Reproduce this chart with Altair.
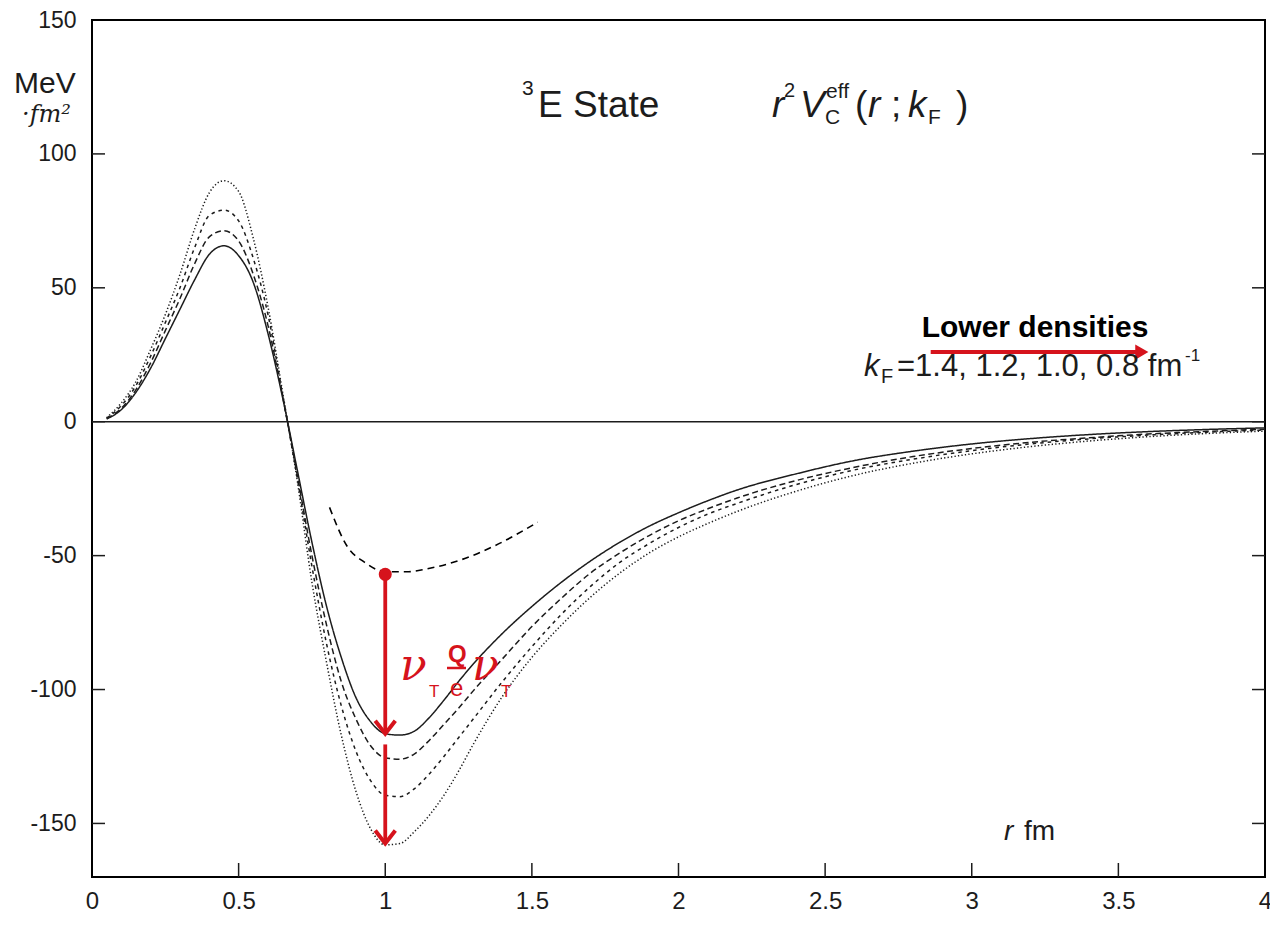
import altair as alt
import pandas as pd

# ---------------- data ----------------
r_vals = [0.05, 0.10, 0.15, 0.20, 0.25, 0.30, 0.35, 0.40, 0.45, 0.50, 0.55, 0.60, 0.65,
          0.70, 0.75, 0.80, 0.85, 0.90, 0.95, 1.00, 1.05, 1.10, 1.15, 1.20, 1.25, 1.30,
          1.4, 1.5, 1.6, 1.7, 1.8, 1.9, 2.0, 2.1, 2.2,
          2.4, 2.6, 2.8, 3.0, 3.2, 3.4, 3.6, 3.8, 4.0]

v_kf14 = [1.0, 4.5, 11, 20, 31, 42, 53, 62.5, 65.7, 62, 52, 33, 9,
          -18, -45, -69, -88, -103, -112, -116.5, -117, -115.5, -110.5, -104, -97, -90.5,
          -79, -69, -60, -52, -45, -39, -34, -29.5, -25.5,
          -19.5, -14.5, -11, -8.3, -6.3, -4.8, -3.7, -2.9, -2.3]

v_kf12 = [1.2, 5, 12, 22, 34, 46, 59, 69, 71.3, 67.5, 55, 36, 9.5,
          -20, -50, -76, -97, -111, -121, -125.5, -126, -124, -119, -113, -107, -100.5,
          -88.5, -76.5, -66, -56.5, -49, -42.5, -37, -32.5, -28.5,
          -22, -17, -13, -10, -7.7, -6, -4.6, -3.6, -2.8]

v_kf10 = [1.3, 6, 13.5, 24.5, 37, 50, 65, 77, 79, 75, 61, 40, 10,
          -21, -54, -83, -106, -123, -134, -139.5, -140, -137, -131.5, -125, -118, -111,
          -97, -84, -72, -61.5, -52.5, -45.5, -39.5, -34.5, -30.5,
          -23.5, -18, -14, -10.8, -8.3, -6.4, -5, -3.9, -3.1]

v_kf08 = [1.5, 7, 15, 27, 40, 55, 72, 85.5, 90, 86, 68.5, 43, 11,
          -22, -60, -90, -117, -138, -152, -158, -157.5, -153, -147, -139.5, -130.5, -120.5,
          -102.5, -88, -76, -65.5, -56.5, -49, -43, -38, -33.5,
          -26, -20, -15.5, -12, -9.3, -7.2, -5.6, -4.4, -3.5]

kf_labels = ["1.4", "1.2", "1.0", "0.8"]

# hand-drawn dashed annotation curve
ann_r = [0.81, 0.87, 0.93, 0.98, 1.02, 1.08, 1.14, 1.26, 1.37, 1.52]
ann_v = [-32, -46.5, -52.5, -55.5, -56, -56, -55, -51.5, -46.5, -37.5]

# red vertical arrows (r, start, end)
arrow_r = [1.0, 1.0]
arrow_from = [-57, -120.5]
arrow_to = [-115.5, -156.5]
arrow_tip = [-116.5, -157.5]
dot_v = [-57]

# red horizontal arrow ("Lower densities")
harrow_r = [2.86, 3.56]
harrow_tip_r = [3.58]
harrow_v = [26]

x_ticks = [0, 0.5, 1, 1.5, 2, 2.5, 3, 3.5, 4]
y_ticks = [-150, -100, -50, 0, 50, 100, 150]

# ---------------- layout ----------------
W, H = 1173, 857
PL, PT = 92, 20
FONT = "Liberation Sans"
RED = "#d6131c"
INK = "#1c1c1c"

rows = []
for lab, vals in zip(kf_labels, [v_kf14, v_kf12, v_kf10, v_kf08]):
    for r, v in zip(r_vals, vals):
        rows.append({"r": r, "V": v, "kF": lab})
curves = pd.DataFrame(rows)

xscale = alt.Scale(domain=[0, 4], nice=False, zero=False)
yscale = alt.Scale(domain=[-170, 150], nice=False, zero=False)

lines = alt.Chart(curves).mark_line(color=INK, interpolate="monotone").encode(
    x=alt.X("r:Q", scale=xscale,
            axis=alt.Axis(values=x_ticks, title=None, labelExpr="'' + datum.value",
                          labelFlush=False, labelOverlap=False, labelPadding=12,
                          labelFontSize=24)),
    y=alt.Y("V:Q", scale=yscale,
            axis=alt.Axis(values=y_ticks, title=None, labelExpr="'' + datum.value",
                          labelPadding=16, labelFontSize=23, labelOverlap=False)),
    strokeDash=alt.StrokeDash("kF:N", sort=kf_labels,
                              scale=alt.Scale(domain=kf_labels,
                                              range=[[1, 0], [6, 3.5], [3.5, 4], [1.3, 2.2]]),
                              legend=None),
    strokeWidth=alt.StrokeWidth("kF:N", scale=alt.Scale(domain=kf_labels,
                                                        range=[1.5, 1.5, 1.5, 1.8]),
                                legend=None),
    detail="kF:N",
)

zero_line = alt.Chart(pd.DataFrame({"V": [0]})).mark_rule(color=INK, strokeWidth=1.5).encode(
    y=alt.Y("V:Q", scale=yscale)
)

ann = alt.Chart(pd.DataFrame({"r": ann_r, "V": ann_v})).mark_line(
    color="black", strokeWidth=1.6, strokeDash=[7, 5], interpolate="monotone"
).encode(x=alt.X("r:Q", scale=xscale), y=alt.Y("V:Q", scale=yscale))

arrows_df = pd.DataFrame({"r": arrow_r, "V": arrow_from, "V2": arrow_to, "T": arrow_tip})
shafts = alt.Chart(arrows_df).mark_rule(color=RED, strokeWidth=3.8).encode(
    x=alt.X("r:Q", scale=xscale), y=alt.Y("V:Q", scale=yscale), y2="V2:Q"
)
heads = alt.Chart(arrows_df).mark_point(
    shape="M-0.85,-1.1L0,0L0.85,-1.1", filled=False, color=RED, strokeWidth=4, size=560,
    opacity=1
).encode(x=alt.X("r:Q", scale=xscale), y=alt.Y("T:Q", scale=yscale))
dot = alt.Chart(pd.DataFrame({"r": [arrow_r[0]], "V": dot_v})).mark_point(
    shape="circle", filled=True, color=RED, size=170, opacity=1
).encode(x=alt.X("r:Q", scale=xscale), y=alt.Y("V:Q", scale=yscale))

h_df = pd.DataFrame({"r": [harrow_r[0]], "r2": [harrow_r[1]], "V": harrow_v})
h_shaft = alt.Chart(h_df).mark_rule(color=RED, strokeWidth=4).encode(
    x=alt.X("r:Q", scale=xscale), x2="r2:Q", y=alt.Y("V:Q", scale=yscale)
)
h_head = alt.Chart(pd.DataFrame({"r": harrow_tip_r, "V": harrow_v})).mark_point(
    shape="triangle-right", filled=True, color=RED, size=230, opacity=1
).encode(x=alt.X("r:Q", scale=xscale), y=alt.Y("V:Q", scale=yscale))

# inward tick marks
yt = pd.DataFrame({"V": y_ticks[:-1]})
yt_left = alt.Chart(yt).mark_rule(color=INK, strokeWidth=1.5).encode(
    y=alt.Y("V:Q", scale=yscale), x=alt.value(0), x2=alt.value(13))
yt_right = alt.Chart(yt).mark_rule(color=INK, strokeWidth=1.5).encode(
    y=alt.Y("V:Q", scale=yscale), x=alt.value(W - 13), x2=alt.value(W))
xt = pd.DataFrame({"r": x_ticks[1:-1]})
xt_bottom = alt.Chart(xt).mark_rule(color=INK, strokeWidth=1.5).encode(
    x=alt.X("r:Q", scale=xscale), y=alt.value(H - 14), y2=alt.value(H))


def label(text, px, py, size, font=FONT, color=INK, align="left", **kw):
    return alt.Chart(alt.Data(values=[{}])).mark_text(
        text=text, x=px - PL, y=py - PT, fontSize=size, font=font, color=color,
        align=align, baseline="alphabetic", **kw
    )


texts = [
    # title
    label("3", 522, 95, 21),
    label("E State", 538, 117, 37),
    label("r", 772, 117, 37, fontStyle="italic"),
    label("2", 784, 97, 20),
    label("V", 800, 117, 37, fontStyle="italic"),
    label("eff", 826, 98, 21),
    label("C", 825, 124, 21),
    label("(", 855, 117, 37),
    label("r", 868, 117, 37, fontStyle="italic"),
    label(";", 891, 117, 37),
    label("k", 908, 117, 37, fontStyle="italic"),
    label("F", 928, 124, 21),
    label(")", 956, 117, 37),
    # y unit
    label("MeV", 14, 93, 30),
    label("·fm²", 22, 122, 24, font="DejaVu Serif", fontStyle="italic"),
    # x unit
    label("r", 1004, 840, 28, fontStyle="italic"),
    label("fm", 1024, 840, 28),
    # density legend
    label("Lower densities", 1035, 337, 30, align="center", fontWeight="bold", color="black"),
    label("k", 864, 376, 31, fontStyle="italic"),
    label("F", 881, 383, 20),
    label("=1.4, 1.2, 1.0, 0.8 fm", 897, 376, 31),
    label("-1", 1185, 361, 17),
    # red handwriting
    label("ν", 400, 680, 44, font="DejaVu Serif", color=RED, fontStyle="italic"),
    label("T", 429, 697, 17, color=RED),
    label("Q", 448, 662, 24, color=RED, fontWeight="bold"),
    label("e", 450, 696, 24, color=RED),
    label("ν", 472, 680, 44, font="DejaVu Serif", color=RED, fontStyle="italic"),
    label("T", 501, 697, 17, color=RED),
]
bar_q = alt.Chart(alt.Data(values=[{}])).mark_rule(color=RED, strokeWidth=2.5).encode(
    x=alt.value(447 - PL), x2=alt.value(466 - PL), y=alt.value(668 - PT))

chart = alt.layer(
    lines, zero_line, ann, yt_left, yt_right, xt_bottom,
    shafts, heads, dot, h_shaft, h_head, bar_q, *texts
).properties(
    width=W, height=H,
    autosize=alt.AutoSizeParams(type="none"),
    padding={"left": PL, "top": PT, "right": 1270 - PL - W, "bottom": 929 - PT - H},
    background="white",
).configure_view(
    stroke="black", strokeWidth=2
).configure_axis(
    labelFont=FONT, labelColor=INK, ticks=False, domain=False, grid=False
)

chart.save("out.html", embed_options={"renderer": "svg", "actions": False})
